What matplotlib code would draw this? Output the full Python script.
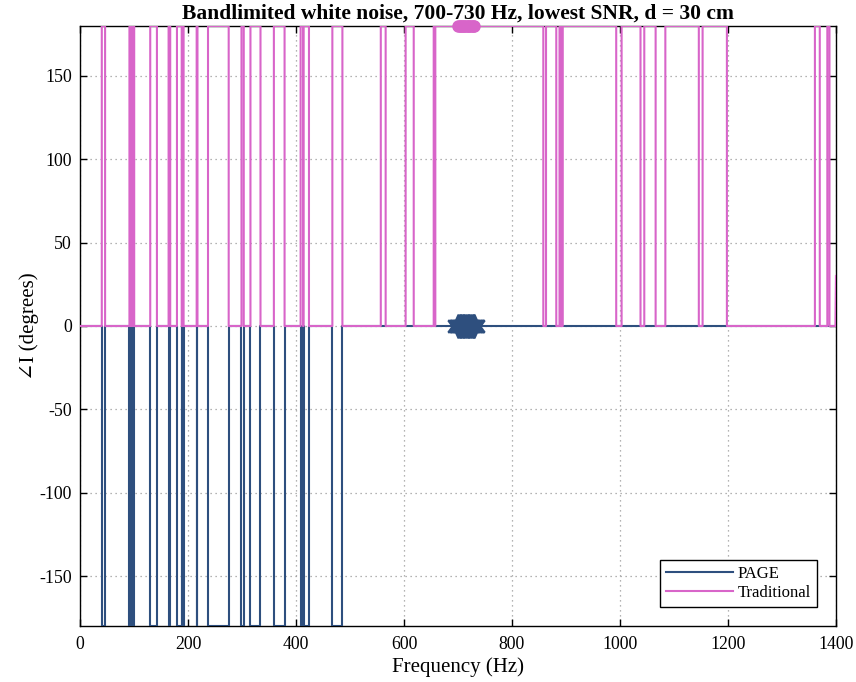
import matplotlib
matplotlib.use("Agg")
import matplotlib.pyplot as plt
import numpy as np

# ---------------- data ----------------
freq_min_hz = 0
freq_max_hz = 1400

# Traditional: intervals (Hz) where the phase is +180 deg (0 elsewhere)
trad_high_start = [40.3, 91.5, 94.0, 96.5, 99.0, 130.0, 164.0, 179.5, 189.3, 216.0,
                   237.0, 299.0, 315.6, 359.0, 408.5, 414.0, 467.3,
                   557.0, 603.0, 655.0, 658.0, 863.0, 888.0, 894.0, 1003.0, 1045.0,
                   1084.0, 1153.0, 1361.0, 1384.0]
trad_high_end = [46.4, 93.0, 95.5, 98.0, 100.3, 142.4, 167.0, 188.3, 191.8, 217.5,
                 275.3, 303.2, 334.2, 378.8, 413.0, 424.0, 485.9,
                 566.0, 618.0, 657.0, 858.0, 882.0, 891.0, 993.0, 1038.0, 1066.0,
                 1146.0, 1198.0, 1370.0, 1388.0]
trad_last_value = 30.0

# PAGE: intervals (Hz) where the phase is -180 deg (0 elsewhere)
page_low_start = [40.3, 91.5, 94.0, 96.5, 99.0, 130.0, 164.0, 179.5, 189.3, 216.0,
                  237.0, 299.0, 315.6, 359.0, 408.5, 414.0, 467.3]
page_low_end = [46.4, 93.0, 95.5, 98.0, 100.3, 142.4, 167.0, 188.3, 191.8, 217.5,
                275.3, 303.2, 334.2, 378.8, 413.0, 424.0, 485.9]

# source band 700-730 Hz markers
band_freqs = [700, 703, 706, 709, 712, 715, 718, 721, 724, 727, 730]
band_trad = [180, 180, 180, 180, 180, 180, 180, 180, 180, 180, 180]
band_page = [0, 0, 0, 0, 0, 0, 0, 0, 0, 0, 0]

HIGH = 180.0
LOW = -180.0

x_ticks = [0, 200, 400, 600, 800, 1000, 1200, 1400]
y_ticks = [-150, -100, -50, 0, 50, 100, 150]

title = "Bandlimited white noise, 700-730 Hz, lowest SNR, d = 30 cm"


def step_series(starts, ends, level, last_value=None):
    xs = [freq_min_hz]
    ys = [0.0]
    for a, b in zip(starts, ends):
        xs += [a, a, b, b]
        ys += [0.0, level, level, 0.0]
    if last_value is None:
        xs.append(freq_max_hz)
        ys.append(0.0)
    else:
        xs += [freq_max_hz - 1, freq_max_hz]
        ys += [0.0, last_value]
    return np.array(xs), np.array(ys)


px, py = step_series(page_low_start, page_low_end, LOW)
tx, ty = step_series(trad_high_start, trad_high_end, HIGH, trad_last_value)

# ---------------- styling ----------------
serif = ["Liberation Serif", "DejaVu Serif"]
plt.rcParams["font.family"] = serif
plt.rcParams["axes.unicode_minus"] = False

blue = "#2E4F7E"
pink = "#D865C9"

fig = plt.figure(figsize=(8.56, 6.82), dpi=100)
ax = fig.add_axes([0.0935, 0.0821, 0.8831, 0.8798])

ax.plot(px, py, color=blue, lw=1.5, label="PAGE", zorder=3)
ax.plot(tx, ty, color=pink, lw=1.5, label="Traditional", zorder=4)

star6 = (6, 1, 0)
ax.plot(band_freqs, band_page, linestyle="none", marker=star6, markersize=17,
        color=blue, markeredgecolor=blue, markeredgewidth=1.5, zorder=5, clip_on=False)
ax.plot(band_freqs, band_trad, linestyle="none", marker="o", markersize=8,
        color=pink, markeredgecolor=pink, zorder=5, clip_on=False)

ax.set_xlim(freq_min_hz, freq_max_hz)
ax.set_ylim(LOW, HIGH)
ax.set_xticks(x_ticks)
ax.set_yticks(y_ticks)
ax.tick_params(direction="in", top=True, right=True, length=5, width=1,
               labelsize=12.8, colors="black")
ax.tick_params(axis="x", pad=7.5)
ax.tick_params(axis="y", pad=6)
for s in ax.spines.values():
    s.set_linewidth(1.0)
    s.set_color("black")
ax.grid(True, linestyle=(0, (1, 3)), color="#9a9a9a", linewidth=0.9)
ax.set_axisbelow(True)

ax.set_xlabel("Frequency (Hz)", fontsize=15, labelpad=2.5)
ax.set_ylabel("\u2220I (degrees)", fontsize=15, labelpad=0)
ax.set_title(title, fontsize=15.5, fontweight="bold", pad=5)

leg = ax.legend(loc="lower right", bbox_to_anchor=(0.975, 0.032), fontsize=12,
                handlelength=4.0, labelspacing=0.2, borderpad=0.35,
                handletextpad=0.3, fancybox=False, framealpha=1, borderaxespad=0)
leg.get_frame().set_edgecolor("black")
leg.get_frame().set_linewidth(1.0)

fig.savefig("out.png", dpi=100)
